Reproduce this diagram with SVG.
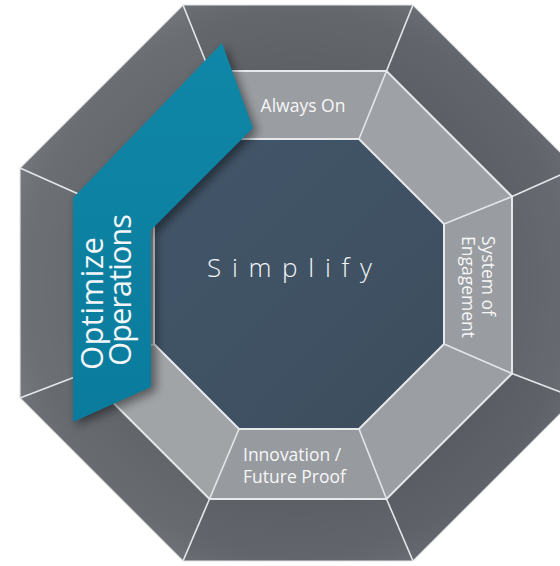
<svg xmlns="http://www.w3.org/2000/svg" width="560" height="566" viewBox="0 0 560 566">
<style>
.outer{stroke:none}
.mid{stroke:none}
.div{stroke:#e3e7ea;stroke-width:1.6;fill:none}
.edge{stroke:#e6e9ec;stroke-width:2;fill:none}
.lbl{font-family:"Open Sans","Liberation Sans",sans-serif;font-size:17.5px;fill:#f6f7f8;font-weight:500}
.big{font-family:"Open Sans","Liberation Sans",sans-serif;font-weight:300;fill:#f3f6f8}
.rib{font-family:"Open Sans","Liberation Sans",sans-serif;font-weight:400;fill:#f3f6f8;font-size:31px}
</style>
<defs>
<radialGradient id="ringShade" cx="298" cy="284" r="302" gradientUnits="userSpaceOnUse">
<stop offset="0.7" stop-color="#000" stop-opacity="0.07"/>
<stop offset="0.85" stop-color="#000" stop-opacity="0.02"/>
<stop offset="1" stop-color="#fff" stop-opacity="0.06"/>
</radialGradient>
<linearGradient id="tealGrad" x1="0" y1="0" x2="0" y2="1">
<stop offset="0" stop-color="#1087a8"/>
<stop offset="1" stop-color="#0a7b9c"/>
</linearGradient>
<linearGradient id="innerGrad" x1="0" y1="0" x2="1" y2="1">
<stop offset="0" stop-color="#43566a"/>
<stop offset="1" stop-color="#3c4e5d"/>
</linearGradient>
<filter id="shadow" x="-30%" y="-30%" width="160%" height="160%">
<feGaussianBlur stdDeviation="5"/>
</filter>
</defs>

<g id="outer-ring">
<polygon class="outer" fill="#64686d" points="183,5 413,5 386.5,71 209.5,71"/>
<polygon class="outer" fill="#62666c" points="413,5 576,168 512,196.5 386.5,71"/>
<polygon class="outer" fill="#676b71" points="576,168 576,398 512,373.5 512,196.5"/>
<polygon class="outer" fill="#5f6369" points="576,398 413,561 386.5,499 512,373.5"/>
<polygon class="outer" fill="#62666c" points="413,561 183,561 209.5,499 386.5,499"/>
<polygon class="outer" fill="#686c71" points="183,561 20,398 84,373.5 209.5,499"/>
<polygon class="outer" fill="#6d7176" points="20,398 20,168 84,196.5 84,373.5"/>
<polygon class="outer" fill="#6b6f74" points="20,168 183,5 209.5,71 84,196.5"/>
<polygon fill="url(#ringShade)" points="183,5 413,5 576,168 576,398 413,561 183,561 20,398 20,168"/>
<polygon points="183,5 413,5 576,168 576,398 413,561 183,561 20,398 20,168" fill="none" stroke="#e2e4e6" stroke-width="1.2"/>
</g>

<g id="middle-ring">
<polygon class="mid" fill="#9a9da1" points="209.5,71 386.5,71 359,139 239,139"/>
<polygon class="mid" fill="#9ea1a5" points="386.5,71 512,196.5 444,224 359,139"/>
<polygon class="mid" fill="#999ca0" points="512,196.5 512,373.5 444,344 444,224"/>
<polygon class="mid" fill="#9b9ea2" points="512,373.5 386.5,499 359,429 444,344"/>
<polygon class="mid" fill="#979a9e" points="386.5,499 209.5,499 239,429 359,429"/>
<polygon class="mid" fill="#a1a4a7" points="209.5,499 84,373.5 154,344 239,429"/>
<polygon class="mid" fill="#a0a3a6" points="84,373.5 84,196.5 154,224 154,344"/>
<polygon class="mid" fill="#9fa2a5" points="84,196.5 209.5,71 239,139 154,224"/>
</g>

<g id="simplify">
<polygon fill="url(#innerGrad)" points="239,139 359,139 444,224 444,344 359,429 239,429 154,344 154,224"/>
<text class="big" x="207" y="277" font-size="26" letter-spacing="10.7">Simplify</text>
</g>

<g id="connectors">
<polygon class="edge" points="209.5,71 386.5,71 512,196.5 512,373.5 386.5,499 209.5,499 84,373.5 84,196.5"/>
<polygon class="edge" points="239,139 359,139 444,224 444,344 359,429 239,429 154,344 154,224"/>
<line class="div" x1="183" y1="5" x2="209.5" y2="71"/>
<line class="div" x1="413" y1="5" x2="386.5" y2="71"/>
<line class="div" x1="576" y1="168" x2="512" y2="196.5"/>
<line class="div" x1="576" y1="398" x2="512" y2="373.5"/>
<line class="div" x1="413" y1="561" x2="386.5" y2="499"/>
<line class="div" x1="183" y1="561" x2="209.5" y2="499"/>
<line class="div" x1="20" y1="398" x2="84" y2="373.5"/>
<line class="div" x1="20" y1="168" x2="84" y2="196.5"/>
<line class="div" x1="209.5" y1="71" x2="239" y2="139"/>
<line class="div" x1="386.5" y1="71" x2="359" y2="139"/>
<line class="div" x1="512" y1="196.5" x2="444" y2="224"/>
<line class="div" x1="512" y1="373.5" x2="444" y2="344"/>
<line class="div" x1="386.5" y1="499" x2="359" y2="429"/>
<line class="div" x1="209.5" y1="499" x2="239" y2="429"/>
<line class="div" x1="84" y1="373.5" x2="154" y2="344"/>
<line class="div" x1="84" y1="196.5" x2="154" y2="224"/>
</g>

<g id="always-on">
<text class="lbl" x="303" y="112" text-anchor="middle">Always On</text>
</g>

<g id="system-of-engagement">
<text class="lbl" transform="translate(482,236) rotate(90)">System of</text>
<text class="lbl" transform="translate(462,236) rotate(90)">Engagement</text>
</g>

<g id="innovation-future-proof">
<text class="lbl" x="243" y="461">Innovation /</text>
<text class="lbl" x="243" y="483">Future Proof</text>
</g>

<g id="optimize-operations">
<polygon points="226,47 257,132 156,234 156,391 77,426 77,202" fill="#000" opacity="0.45" filter="url(#shadow)"/>
<polygon points="222,43 253,128 151,230 151,387 73,422 73,198" fill="url(#tealGrad)"/>
<text class="rib" transform="translate(103,370) rotate(-90)" textLength="133" lengthAdjust="spacing">Optimize</text>
<text class="rib" transform="translate(131,366) rotate(-90)" textLength="152" lengthAdjust="spacing">Operations</text>
</g>
</svg>
